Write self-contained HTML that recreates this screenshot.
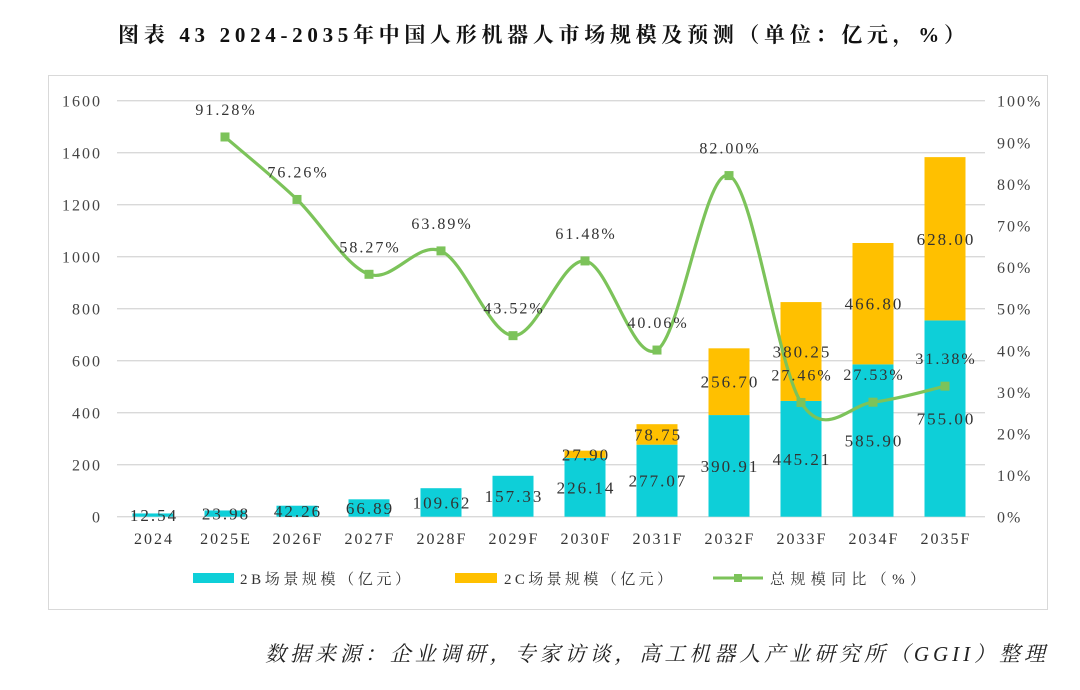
<!DOCTYPE html>
<html><head><meta charset="utf-8"><style>
body{margin:0;background:#fff;width:1080px;height:685px;overflow:hidden;font-family:"Liberation Serif","Noto Serif CJK SC",serif;}
</style></head><body>
<svg id="c" width="1080" height="685" xmlns="http://www.w3.org/2000/svg">
<text x="118" y="42" textLength="847" lengthAdjust="spacing" font-size="21" font-weight="bold" fill="#111">图表 43  2024-2035年中国人形机器人市场规模及预测（单位：亿元，%）</text>
<rect x="48.5" y="75.5" width="999" height="534" fill="none" stroke="#d9d9d9"/>
<g id="grid"></g><g id="bars"></g><g id="line"></g><g id="labels"></g>
<g font-size="15" fill="#333">
<rect x="193" y="573" width="41" height="10" fill="#0ecfd8"/>
<text x="240" y="584" textLength="170" lengthAdjust="spacing">2B场景规模（亿元）</text>
<rect x="455" y="573" width="42" height="10" fill="#ffc000"/>
<text x="504" y="584" textLength="168" lengthAdjust="spacing">2C场景规模（亿元）</text>
<line x1="713" y1="578" x2="763" y2="578" stroke="#7cc35a" stroke-width="3"/>
<rect x="734" y="574" width="8" height="8" fill="#7cc35a"/>
<text x="770" y="584" textLength="155" lengthAdjust="spacing">总规模同比（%）</text>
</g>
<text x="265" y="661" textLength="780" lengthAdjust="spacing" font-size="21" font-style="italic" fill="#222">数据来源：企业调研，专家访谈，高工机器人产业研究所（GGII）整理</text>
</svg>
<script>
const categories=["2024","2025E","2026F","2027F","2028F","2029F","2030F","2031F","2032F","2033F","2034F","2035F"];
const values2B=[12.54,23.98,42.26,66.89,109.62,157.33,226.14,277.07,390.91,445.21,585.90,755.00];
const values2C=[0,0,0,0,0,0,27.90,78.75,256.70,380.25,466.80,628.00];
const growth=[null,91.28,76.26,58.27,63.89,43.52,61.48,40.06,82.00,27.46,27.53,31.38];
const leftTicks=[0,200,400,600,800,1000,1200,1400,1600];
const rightTicks=[0,10,20,30,40,50,60,70,80,90,100];
const NS="http://www.w3.org/2000/svg";
const X0=117,BW=72,Y0=516.7,Y1=100.7;
const xc=i=>X0+BW*(i+0.5);
const yL=v=>Y0-(Y0-Y1)*v/1600;
const yR=v=>Y0-(Y0-Y1)*v/100;
function mk(t,a,p){const e=document.createElementNS(NS,t);for(const k in a)e.setAttribute(k,a[k]);p.appendChild(e);return e;}
const grid=document.getElementById('grid'),bars=document.getElementById('bars'),line=document.getElementById('line'),labels=document.getElementById('labels');
const LS=2;
leftTicks.forEach(v=>{
 const l=mk('line',{x1:X0,x2:985,y1:yL(v),y2:yL(v),stroke:'#d9d9d9','stroke-width':1.3},grid);
 
 
 const t=mk('text',{x:102,y:yL(v)+6,'text-anchor':'end','font-size':16,fill:'#444','letter-spacing':LS},grid);t.textContent=v;
 
 
});
rightTicks.forEach(v=>{
 const t=mk('text',{x:997,y:yR(v)+6,'font-size':16,fill:'#444','letter-spacing':LS},grid);t.textContent=v+'%';
 
 
});
categories.forEach((c,i)=>{
 const t=mk('text',{x:xc(i)+1,y:544,'text-anchor':'middle','font-size':16,fill:'#333','letter-spacing':LS},grid);t.textContent=c;
 
 
 const b=values2B[i],cc=values2C[i];
 const r1=mk('rect',{x:xc(i)-20.5,y:yL(b),width:41,height:Y0-yL(b),fill:'#0ecfd8'},bars);
 
 
 const l1=mk('text',{x:xc(i)+1,y:(Y0+yL(b))/2+6,'text-anchor':'middle','font-size':17,fill:'#333','letter-spacing':LS},labels);l1.textContent=b.toFixed(2);
 
 
 if(cc>0){
  const r2=mk('rect',{x:xc(i)-20.5,y:yL(b+cc),width:41,height:yL(b)-yL(b+cc),fill:'#ffc000'},bars);
  
  
  const l2=mk('text',{x:xc(i)+1,y:(yL(b)+yL(b+cc))/2+6,'text-anchor':'middle','font-size':17,fill:'#333','letter-spacing':LS},labels);l2.textContent=cc.toFixed(2);
  
  
 }
});
const pts=[];growth.forEach((g,i)=>{if(g!==null)pts.push([xc(i),yR(g),g]);});
let d='M'+pts[0][0]+','+pts[0][1];
for(let k=0;k<pts.length-1;k++){
 const p0=pts[Math.max(0,k-1)],p1=pts[k],p2=pts[k+1],p3=pts[Math.min(pts.length-1,k+2)];
 const t=6;
 d+=' C'+(p1[0]+(p2[0]-p0[0])/t)+','+(p1[1]+(p2[1]-p0[1])/t)+' '+(p2[0]-(p3[0]-p1[0])/t)+','+(p2[1]-(p3[1]-p1[1])/t)+' '+p2[0]+','+p2[1];
}
const path=mk('path',{d:d,fill:'none',stroke:'#7cc35a','stroke-width':3.2},line);


pts.forEach(p=>{
 const m=mk('rect',{x:p[0]-4.5,y:p[1]-4.5,width:9,height:9,fill:'#7cc35a'},line);
 
 
 const t=mk('text',{x:p[0]+1,y:p[1]-22,'text-anchor':'middle','font-size':16,fill:'#333','letter-spacing':LS},labels);t.textContent=p[2].toFixed(2)+'%';
 
 
});
</script>
</body></html>
